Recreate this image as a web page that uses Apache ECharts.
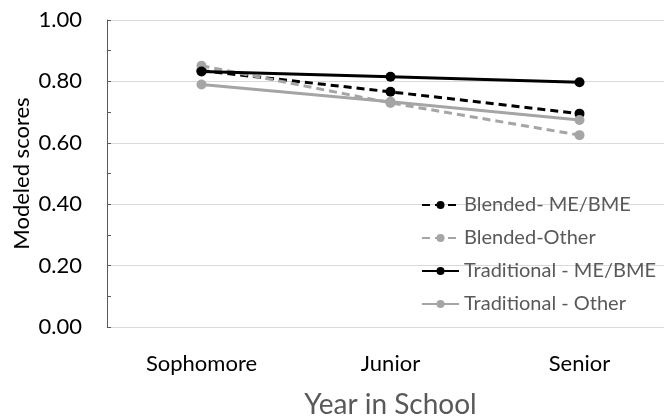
<!DOCTYPE html>
<html>
<head>
<meta charset="utf-8">
<script src="https://cdn.jsdelivr.net/npm/echarts@6/dist/echarts.min.js"></script>
<style>
  html, body { margin: 0; padding: 0; background: #fff; }
  #chart { width: 664px; height: 417px; }
</style>
</head>
<body>
<div id="chart"></div>
<script>
const years = ['Sophomore', 'Junior', 'Senior']
const yTicks = [0, 0.2, 0.4, 0.6, 0.8, 1.0]

const blendedMe = [0.835, 0.766, 0.695]
const blendedOther = [0.851, 0.730, 0.625]
const traditionalMe = [0.832, 0.815, 0.797]
const traditionalOther = [0.790, 0.734, 0.674]

const BLACK = '#000000'
const GRAY = '#a5a5a5'
const FONT = 'Lato'

function makeSeries(name, data, color, dashed) {
  return {
    name,
    type: 'line',
    data,
    symbol: 'circle',
    symbolSize: 10,
    lineStyle: { color, width: 3, type: dashed ? [8, 5] : 'solid' },
    itemStyle: { color },
    emphasis: { disabled: true }
  }
}

const chart = echarts.init(document.getElementById('chart'))

chart.setOption({
  animation: false,
  textStyle: { fontFamily: FONT },
  grid: {
    left: 107, right: -10, top: 20, bottom: 90,
    containLabel: false,
    outerBoundsMode: 'none'
  },
  legend: {
    orient: 'vertical',
    left: 416,
    top: 190,
    itemGap: 13,
    itemWidth: 37,
    itemHeight: 10,
    textStyle: { color: '#595959', fontSize: 20, fontFamily: FONT },
    data: ['Blended- ME/BME', 'Blended-Other', 'Traditional - ME/BME', 'Traditional - Other']
  },
  xAxis: {
    type: 'category',
    data: years,
    name: 'Year in School',
    nameLocation: 'middle',
    nameGap: 64,
    nameMoveOverlap: false,
    nameTextStyle: { color: '#595959', fontSize: 28, fontFamily: FONT },
    axisLine: { lineStyle: { color: '#d9d9d9', width: 1 } },
    axisTick: { show: false },
    axisLabel: { color: '#000', fontSize: 22, margin: 26, fontFamily: FONT }
  },
  yAxis: {
    type: 'value',
    min: yTicks[0],
    max: yTicks[yTicks.length - 1],
    interval: 0.2,
    name: 'Modeled scores',
    nameLocation: 'middle',
    nameGap: 74,
    nameMoveOverlap: false,
    nameTextStyle: { color: '#000', fontSize: 22, fontFamily: FONT },
    axisLine: { show: true, lineStyle: { color: '#595959', width: 1 } },
    axisTick: { show: true, inside: true, length: 4, lineStyle: { color: '#595959' } },
    minorTick: { show: true, splitNumber: 2, length: 4, lineStyle: { color: '#595959' } },
    splitLine: { lineStyle: { color: '#d9d9d9', width: 1 } },
    axisLabel: {
      color: '#000',
      fontSize: 22,
      margin: 25,
      fontFamily: FONT,
      formatter: v => v.toFixed(2)
    }
  },
  series: [
    makeSeries('Blended- ME/BME', blendedMe, BLACK, true),
    makeSeries('Blended-Other', blendedOther, GRAY, true),
    makeSeries('Traditional - ME/BME', traditionalMe, BLACK, false),
    makeSeries('Traditional - Other', traditionalOther, GRAY, false)
  ]
})
</script>
</body>
</html>
